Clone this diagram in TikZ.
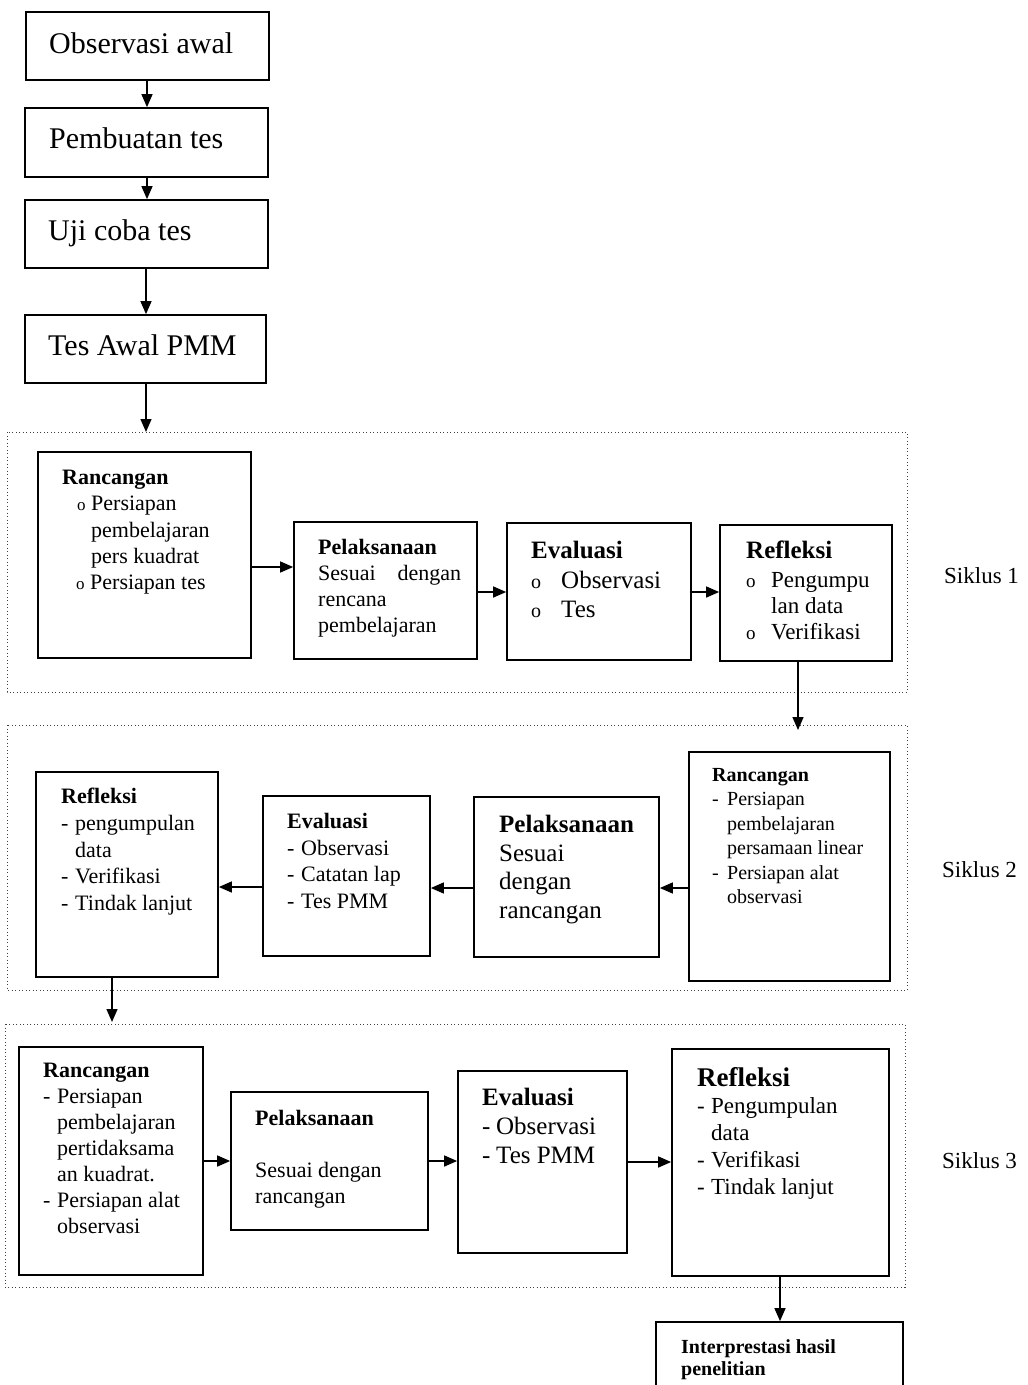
\documentclass[tikz,border=0pt]{standalone}
\usepackage{fontspec}
\setmainfont{Liberation Serif}
\usetikzlibrary{arrows.meta,fit}
\newcommand\ob[1]{{\fontsize{#1}{#1}\selectfont o}}
\newcommand\dsh[1]{\makebox[#1][l]{-}}
\begin{document}
\begin{tikzpicture}[x=1pt,y=-1pt,
  box/.style={draw, line width=1.7pt, inner sep=0pt},
  frame/.style={draw=black!75, line width=0.8pt, dash pattern=on 1pt off 2.5pt},
  arr/.style={line width=1.4pt, -{Triangle[length=13pt,width=11pt]}},
  txt/.style={anchor=north west, inner sep=0pt, align=left},
  lbl/.style={anchor=base west, inner sep=0pt, font=\fontsize{23}{23}\selectfont},
  topt/.style={anchor=base west, inner sep=0pt, font=\fontsize{30}{30}\selectfont}]
\useasboundingbox (0,0) rectangle (1028,1385);
\fill[white] (0,0) rectangle (1028,1385);
\clip (0,0) rectangle (1028,1385);

% frames of the cycles
\draw[frame] (7,432) rectangle (907,692);
\draw[frame] (7,725) rectangle (907,990);
\draw[frame] (5,1024) rectangle (905,1287);

% top column
\node[box, fit={(26,12)(269,80)}] (a1) {};
\node[topt] (a1t) at (49,53) {Observasi awal};
\node[box, fit={(25,108)(268,177)}] (a2) {};
\node[topt] (a2t) at (49,148) {Pembuatan tes};
\node[box, fit={(25,200)(268,268)}] (a3) {};
\node[topt] (a3t) at (48,240) {Uji coba tes};
\node[box, fit={(25,315)(266,383)}] (a4) {};
\node[topt] (a4t) at (48,355) {Tes Awal PMM};
\coordinate (c1) at (146,432);
\draw[arr] (a1.south -| 147,0) -- (a2.north -| 147,0);
\draw[arr] (a2.south -| 147,0) -- (a3.north -| 147,0);
\draw[arr] (a3.south -| 146,0) -- (a4.north -| 146,0);
\draw[arr] (a4.south -| c1) -- (c1);

% Siklus 1
\node[box, fit={(38,452)(251,658)}] (r1) {};
\node[txt, font=\fontsize{22}{26.2}\selectfont] (r1t) at (62,470)
  {\textbf{Rancangan}\\
   \makebox[29pt][l]{\hspace*{15pt}\ob{17}}Persiapan\\
   \hspace*{29pt}pembelajaran\\
   \hspace*{29pt}pers kuadrat\\
   \makebox[28pt][l]{\hspace*{14pt}\ob{17}}Persiapan tes};
\node[box, fit={(294,522)(477,659)}] (p1) {};
\node[txt, font=\fontsize{22}{26}\selectfont] (p1t) at (318,539)
  {\textbf{Pelaksanaan}\\ \makebox[143pt][s]{Sesuai dengan}\\ rencana\\ pembelajaran};
\node[box, fit={(507,523)(691,660)}] (e1) {};
\node[txt, font=\fontsize{25}{29.5}\selectfont] (e1t) at (531,541)
  {\textbf{Evaluasi}\\ \makebox[30pt][l]{\ob{20}}Observasi\\ \makebox[30pt][l]{\ob{20}}Tes};
\node[box, fit={(720,525)(892,661)}] (f1) {};
\node[txt, font=\fontsize{23}{26}\selectfont] (f1t) at (746,541)
  {\textbf{\fontsize{25}{29}\selectfont Refleksi}\\[3pt]
   \makebox[25pt][l]{\ob{19}}Pengumpu\\
   \hspace*{25pt}lan data\\
   \makebox[25pt][l]{\ob{19}}Verifikasi};
\node[lbl] (s1) at (944,583) {Siklus 1};
\draw[arr] (r1.east |- 0,567) -- (p1.west |- 0,567);
\draw[arr] (p1.east |- 0,592) -- (e1.west |- 0,592);
\draw[arr] (e1.east |- 0,592) -- (f1.west |- 0,592);
\coordinate (c2) at (798,730);
\draw[arr] (f1.south -| c2) -- (c2);

% Siklus 2
\node[box, fit={(689,752)(890,981)}] (r2) {};
\node[txt, font=\fontsize{20}{24.5}\selectfont] (r2t) at (712,768)
  {\textbf{Rancangan}\\
   \dsh{15pt}Persiapan\\
   \hspace*{15pt}pembelajaran\\
   \hspace*{15pt}persamaan linear\\
   \dsh{15pt}Persiapan alat\\
   \hspace*{15pt}observasi};
\node[box, fit={(474,797)(659,957)}] (p2) {};
\node[txt, font=\fontsize{25}{28.7}\selectfont] (p2t) at (499,815)
  {\textbf{Pelaksanaan}\\ Sesuai\\ dengan\\ rancangan};
\node[box, fit={(263,796)(430,956)}] (e2) {};
\node[txt, font=\fontsize{22}{26.7}\selectfont] (e2t) at (287,813)
  {\textbf{Evaluasi}\\ \dsh{14pt}Observasi\\ \dsh{14pt}Catatan lap\\ \dsh{14pt}Tes PMM};
\node[box, fit={(36,772)(218,977)}] (f2) {};
\node[txt, font=\fontsize{22}{26.7}\selectfont] (f2t) at (61,788)
  {\textbf{Refleksi}\\ \dsh{14pt}pengumpulan\\ \hspace*{14pt}data\\ \dsh{14pt}Verifikasi\\ \dsh{14pt}Tindak lanjut};
\node[lbl] (s2) at (942,877) {Siklus 2};
\draw[arr] (r2.west |- 0,888) -- (p2.east |- 0,888);
\draw[arr] (p2.west |- 0,888) -- (e2.east |- 0,888);
\draw[arr] (e2.west |- 0,887) -- (f2.east |- 0,887);
\coordinate (c3) at (112,1022);
\draw[arr] (f2.south -| c3) -- (c3);

% Siklus 3
\node[box, fit={(19,1047)(203,1275)}] (r3) {};
\node[txt, font=\fontsize{22}{26}\selectfont] (r3t) at (43,1063)
  {\textbf{Rancangan}\\
   \dsh{14pt}Persiapan\\
   \hspace*{14pt}pembelajaran\\
   \hspace*{14pt}pertidaksama\\
   \hspace*{14pt}an kuadrat.\\
   \dsh{14pt}Persiapan alat\\
   \hspace*{14pt}observasi};
\node[box, fit={(231,1092)(428,1230)}] (p3) {};
\node[txt, font=\fontsize{22}{26}\selectfont] (p3t) at (255,1110)
  {\textbf{Pelaksanaan}\\[26pt] Sesuai dengan\\ rancangan};
\node[box, fit={(458,1071)(627,1253)}] (e3) {};
\node[txt, font=\fontsize{25}{29}\selectfont] (e3t) at (482,1088)
  {\textbf{Evaluasi}\\ \dsh{14pt}Observasi\\ \dsh{14pt}Tes PMM};
\node[box, fit={(672,1049)(889,1276)}] (f3) {};
\node[txt, font=\fontsize{23}{27}\selectfont] (f3t) at (697,1067)
  {\textbf{\fontsize{27}{27}\selectfont Refleksi}\\
   \dsh{14pt}Pengumpulan\\
   \hspace*{14pt}data\\
   \dsh{14pt}Verifikasi\\
   \dsh{14pt}Tindak lanjut};
\node[lbl] (s3) at (942,1168) {Siklus 3};
\draw[arr] (r3.east |- 0,1161) -- (p3.west |- 0,1161);
\draw[arr] (p3.east |- 0,1161) -- (e3.west |- 0,1161);
\draw[arr] (e3.east |- 0,1162) -- (f3.west |- 0,1162);

% final box
\node[box, fit={(656,1322)(903,1400)}] (in) {};
\node[txt, font=\bfseries\fontsize{20}{22}\selectfont] (int) at (681,1339)
  {Interprestasi hasil\\ penelitian};
\draw[arr] (f3.south -| 780,0) -- (in.north -| 780,0);
\end{tikzpicture}
\end{document}
